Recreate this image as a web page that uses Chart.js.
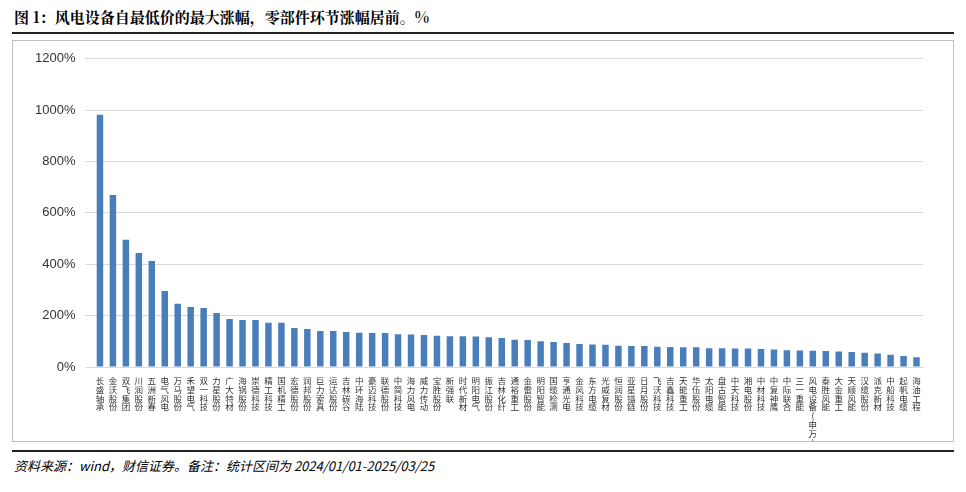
<!DOCTYPE html>
<html><head><meta charset="utf-8">
<script src="https://cdn.jsdelivr.net/npm/chart.js@4"></script>
<style>
  body { margin:0; width:966px; height:492px; background:#fff; font-family:"Noto Sans CJK SC", sans-serif; position:relative; }
  #title { position:absolute; left:14px; top:6px; font-family:"Noto Serif CJK SC","Noto Sans CJK SC",serif; font-weight:bold; font-size:15px; color:#000; }
  #rule1 { position:absolute; left:12px; right:12px; top:32px; border-top:2px solid #222; }
  #box { position:absolute; left:12px; top:40px; width:940px; height:400px; border:1px solid #bfbfbf; }
  #c { position:absolute; left:0; top:0; }
  #rule2 { position:absolute; left:12px; right:12px; top:450px; border-top:2px solid #222; }
  #src { position:absolute; left:14px; top:456px; font-size:13px; font-style:italic; color:#000; }
</style></head><body>
<div id="title">图 1：风电设备自最低价的最大涨幅，零部件环节涨幅居前。%</div>
<div id="rule1"></div>
<div id="box"><canvas id="c" width="940" height="400"></canvas></div>
<div id="rule2"></div>
<div id="src">资料来源：wind，财信证券。备注：统计区间为 2024/01/01-2025/03/25</div>
<script>
// categories and values (max gain from low, %)
const names = ["长盛轴承","金沃股份","双飞集团","川润股份","五洲新春","电气风电","万马股份","禾望电气","双一科技","力星股份",
  "广大特材","海锅股份","崇德科技","精工科技","国机精工","宏德股份","润邦股份","巨力索具","运达股份","吉林碳谷",
  "中环海陆","豪迈科技","联德股份","中简科技","海力风电","威力传动","宝胜股份","新强联","时代新材","明阳电气",
  "振江股份","吉林化纤","通裕重工","金雷股份","明阳智能","国缆检测","亨通光电","金风科技","东方电缆","光威复材",
  "恒润股份","亚星锚链","日月股份","飞沃科技","吉鑫科技","天能重工","华伍股份","太阳电缆","盘古智能","中天科技",
  "湘电股份","中材科技","中复神鹰","中际联合","三一重能","风电设备(申万)","泰胜风能","大金重工","天顺风能","汉缆股份",
  "派克新材","中船科技","起帆电缆","海油工程"];
const gains = [982,670,495,444,413,296,246,234,230,210,
  187,183,183,172,172,152,148,140,140,136,
  133,132,132,128,127,125,122,120,120,119,
  116,113,106,105,100,97,93,90,88,87,
  83,82,82,79,78,77,77,73,73,72,
  72,70,68,65,64,63,62,60,58,55,
  53,48,43,38];
const yTicks = [0,200,400,600,800,1000,1200];

new Chart(document.getElementById("c"), {
  type: "bar",
  data: {
    labels: names.map(n => Array.from(n)),
    datasets: [{ data: gains, backgroundColor: "#4A7EBB", barPercentage: 0.5, categoryPercentage: 1 }]
  },
  options: {
    responsive: false, animation: false,
    layout: { padding: { left: 12, right: 30, top: 12, bottom: 0 } },
    plugins: { legend: { display: false }, tooltip: { enabled: false } },
    scales: {
      x: {
        afterFit: ax => { ax.height = 74; },
        grid: { display: false }, border: { color: "#d9d9d9" },
        ticks: { autoSkip: false, maxRotation: 0, minRotation: 0, color: "#333",
                 font: { family: "Noto Sans CJK SC", size: 8.5, lineHeight: 1.05 }, padding: 1 }
      },
      y: {
        min: 0, max: 1200, afterBuildTicks: ax => { ax.ticks = yTicks.map(v => ({ value: v })); },
        grid: { color: "#d9d9d9" }, border: { display: false },
        ticks: { color: "#333", font: { family: "Arial, Liberation Sans", size: 13 }, padding: 10, callback: v => v + "%" }
      }
    }
  }
});
</script>
</body></html>
